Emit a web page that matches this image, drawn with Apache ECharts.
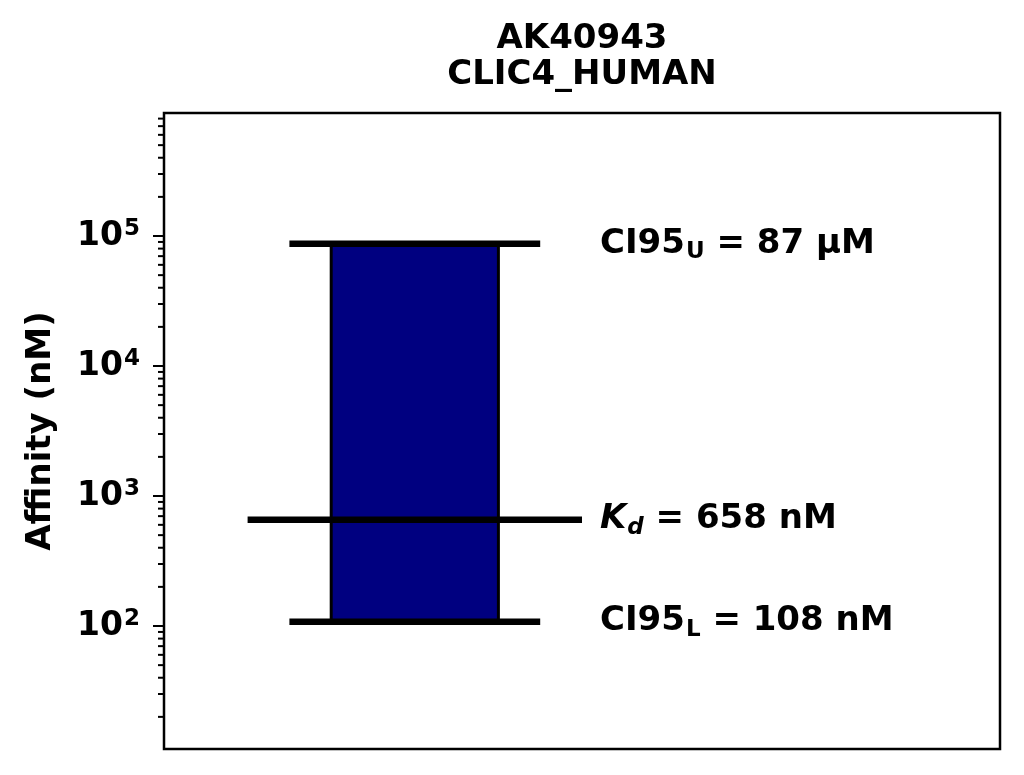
<!DOCTYPE html>
<html>
<head>
<meta charset="utf-8">
<script src="https://cdn.jsdelivr.net/npm/echarts@6/dist/echarts.min.js"></script>
<style>
    html, body {margin: 0; padding: 0; background: #fff;}
    #chart {width: 1024px; height: 775px;}
</style>
</head>
<body>
<div id="chart"></div>
<script>
// 标题
var titleLines = ['AK40943', 'CLIC4_HUMAN'];
var yAxisName = 'Affinity (nM)';
// 亲和力 (nM)
var kdValue = 658;
var ci95Lower = 108;
var ci95Upper = 87000;
// 坐标轴范围 (对数)
var yMin = 11.32;
var yMax = 883500;
var majorTicks = [100, 1000, 10000, 100000];
// 注释文字
var annotationTexts = [
    '{m|CI95}{s|U}{m| = 87 μM}',
    '{i|K}{si|d}{m| = 658 nM}',
    '{m|CI95}{s|L}{m| = 108 nM}'
];

var FONT = 'DejaVu Sans';

// 次刻度 2..9 x 10^n
var minorTicks = [];
for (var n = 1; n <= 5; n++) {
    for (var m = 2; m <= 9; m++) {
        var v = m * Math.pow(10, n);
        if (v > yMin && v < yMax) {
            minorTicks.push(v);
        }
    }
}
var tickData = [];
majorTicks.forEach(function (v) { tickData.push([0, v, 1]); });
minorTicks.forEach(function (v) { tickData.push([0, v, 0]); });

var richText = {
    m: {fontFamily: FONT, fontWeight: 'bold', fontSize: 34, lineHeight: 42, color: '#000'},
    s: {fontFamily: FONT, fontWeight: 'bold', fontSize: 23, lineHeight: 24, padding: [16, 0, 0, 1], color: '#000'},
    i: {fontFamily: FONT, fontWeight: 'bold', fontStyle: 'italic', fontSize: 34, lineHeight: 42, color: '#000'},
    si: {fontFamily: FONT, fontWeight: 'bold', fontStyle: 'italic', fontSize: 23, lineHeight: 24, padding: [16, 0, 0, 1], color: '#000'}
};

var myChart = echarts.init(document.getElementById('chart'));

var option = {
    backgroundColor: '#fff',
    animation: false,
    title: {
        text: titleLines.join('\n'),
        left: 577,
        top: 16,
        textAlign: 'center',
        textStyle: {
            fontFamily: FONT,
            fontWeight: 'bold',
            fontSize: 34,
            lineHeight: 36,
            color: '#000'
        }
    },
    grid: {
        left: 164,
        right: 24,
        top: 113,
        bottom: 26,
        show: true,
        borderColor: '#000',
        borderWidth: 2.5,
        backgroundColor: 'transparent',
        outerBoundsMode: 'none'
    },
    xAxis: {
        type: 'value',
        min: 0,
        max: 1,
        show: false
    },
    yAxis: {
        type: 'log',
        logBase: 10,
        min: yMin,
        max: yMax,
        name: yAxisName,
        nameLocation: 'middle',
        nameRotate: 90,
        nameGap: 106,
        nameTextStyle: {
            fontFamily: FONT,
            fontWeight: 'bold',
            fontSize: 34,
            color: '#000'
        },
        axisLine: {show: false},
        axisTick: {show: false},
        splitLine: {show: false},
        axisLabel: {
            showMinLabel: false,
            showMaxLabel: false,
            margin: 24,
            formatter: function (value) {
                var e = Math.log10(value);
                if (Math.abs(e - Math.round(e)) > 1e-6) {
                    return '';
                }
                return '{b|10}{p|' + Math.round(e) + '}';
            },
            rich: {
                b: {fontFamily: FONT, fontWeight: 'bold', fontSize: 33, lineHeight: 38, color: '#000'},
                p: {fontFamily: FONT, fontWeight: 'bold', fontSize: 23, lineHeight: 24, padding: [0, 0, 14, 1], color: '#000'}
            }
        }
    },
    series: [
        {
            // 刻度线
            type: 'custom',
            clip: false,
            silent: true,
            data: tickData,
            renderItem: function (params, api) {
                var p = api.coord([0, api.value(1)]);
                var len = api.value(2) ? 11 : 6;
                return {
                    type: 'line',
                    shape: {x1: p[0] - len, y1: p[1], x2: p[0], y2: p[1]},
                    style: {stroke: '#000', lineWidth: 2}
                };
            }
        },
        {
            // 置信区间与Kd
            type: 'custom',
            clip: false,
            silent: true,
            data: [[kdValue, ci95Lower, ci95Upper]],
            renderItem: function (params, api) {
                var kd = api.value(0);
                var lo = api.value(1);
                var hi = api.value(2);
                var tl = api.coord([0.2, hi]);
                var br = api.coord([0.4, lo]);
                var uL = api.coord([0.15, hi]), uR = api.coord([0.45, hi]);
                var lL = api.coord([0.15, lo]), lR = api.coord([0.45, lo]);
                var kL = api.coord([0.1, kd]), kR = api.coord([0.5, kd]);
                var tx = api.coord([0.5215, hi])[0];
                var ys = [uL[1], kL[1], lL[1]];
                var children = [
                    {
                        type: 'rect',
                        shape: {x: tl[0], y: tl[1], width: br[0] - tl[0], height: br[1] - tl[1]},
                        style: {fill: '#000080', stroke: '#000', lineWidth: 3}
                    },
                    {type: 'line', shape: {x1: uL[0], y1: uL[1], x2: uR[0], y2: uR[1]}, style: {stroke: '#000', lineWidth: 6.5}},
                    {type: 'line', shape: {x1: lL[0], y1: lL[1], x2: lR[0], y2: lR[1]}, style: {stroke: '#000', lineWidth: 6.5}},
                    {type: 'line', shape: {x1: kL[0], y1: kL[1], x2: kR[0], y2: kR[1]}, style: {stroke: '#000', lineWidth: 6.5}}
                ];
                annotationTexts.forEach(function (t, idx) {
                    children.push({
                        type: 'text',
                        x: tx,
                        y: ys[idx],
                        style: {
                            text: t,
                            rich: richText,
                            align: 'left',
                            verticalAlign: 'middle'
                        }
                    });
                });
                return {type: 'group', children: children};
            }
        }
    ]
};

myChart.setOption(option);
</script>
</body>
</html>
